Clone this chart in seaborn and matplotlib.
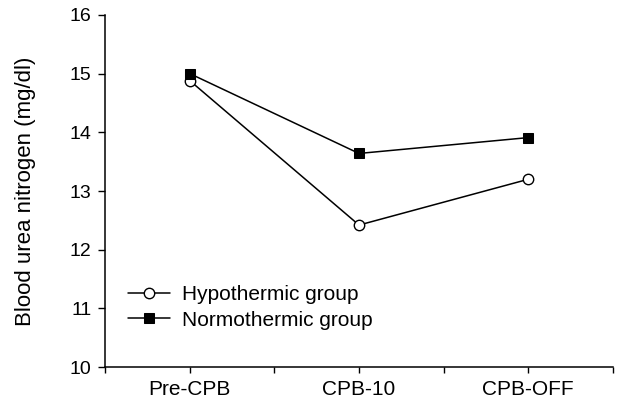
import pandas as pd
import matplotlib.pyplot as plt
import seaborn as sns

# data
timepoints = ['Pre-CPB', 'CPB-10', 'CPB-OFF']
hypothermic = [14.88, 12.42, 13.20]
normothermic = [15.00, 13.64, 13.91]

sns.set_style('ticks')
plt.rcParams['font.family'] = ['Liberation Sans', 'DejaVu Sans']
plt.rcParams['text.color'] = 'black'
plt.rcParams['axes.labelcolor'] = 'black'
plt.rcParams['xtick.color'] = 'black'
plt.rcParams['ytick.color'] = 'black'

fig = plt.figure(figsize=(6.19, 4.03), dpi=100)
ax = fig.add_axes([0.170, 0.089, 0.820, 0.874])

df_h = pd.DataFrame({'x': range(len(timepoints)), 'y': hypothermic})
df_n = pd.DataFrame({'x': range(len(timepoints)), 'y': normothermic})

sns.lineplot(data=df_h, x='x', y='y', ax=ax, color='black', linewidth=1.1,
             marker='o', markersize=7.5, markerfacecolor='white',
             markeredgecolor='black', markeredgewidth=1,
             label='Hypothermic group')
sns.lineplot(data=df_n, x='x', y='y', ax=ax, color='black', linewidth=1.1,
             marker='s', markersize=7, markerfacecolor='black',
             markeredgecolor='black', label='Normothermic group')

ax.set_xlim(-0.5, 2.5)
ax.set_ylim(10, 16)
ax.set_xticks([-0.5, 0, 0.5, 1, 1.5, 2, 2.5])
ax.set_xticklabels(['', timepoints[0], '', timepoints[1], '', timepoints[2], ''],
                   fontsize=15, color='black')
ax.set_yticks(range(10, 17))
ax.tick_params(axis='y', labelsize=14, length=5, width=1, pad=5)
ax.tick_params(axis='x', length=4.5, width=1, pad=5)
ax.set_xlabel('')
ax.set_ylabel('Blood urea nitrogen (mg/dl)', fontsize=16, labelpad=24,
              color='black')
for s in ['left', 'bottom']:
    ax.spines[s].set_linewidth(1.1)
    ax.spines[s].set_color('black')
sns.despine(ax=ax)

ax.legend(loc='center left', bbox_to_anchor=(0.045, 0.169), frameon=False,
          fontsize=15, handlelength=2.0, handletextpad=0.6, labelspacing=0.3,
          borderpad=0, borderaxespad=0)

fig.savefig('out.png', dpi=100)
